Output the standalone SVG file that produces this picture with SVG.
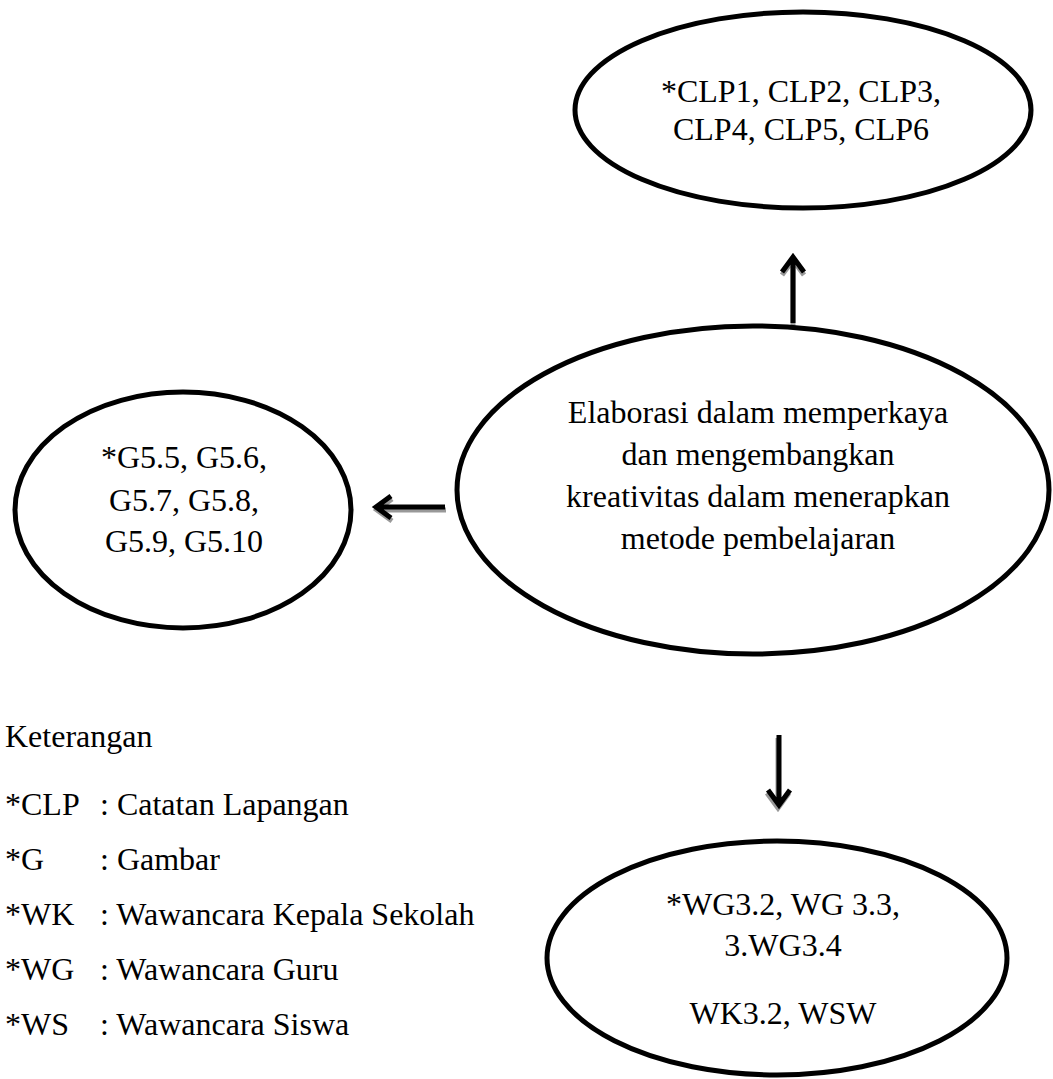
<svg xmlns="http://www.w3.org/2000/svg" width="1053" height="1079" viewBox="0 0 1053 1079">
  <defs>
    <style>
      .node { fill: #ffffff; stroke: #000000; stroke-width: 5; }
      .lbl { font-family: 'Liberation Serif', 'Times New Roman', Times, serif; font-size: 32px; fill: #000000; text-anchor: middle; }
      .leg { font-family: 'Liberation Serif', 'Times New Roman', Times, serif; font-size: 32px; fill: #000000; }
      .arw { fill: none; stroke: #000000; stroke-width: 5; stroke-linejoin: miter; stroke-linecap: butt; }
      .shd { fill: none; stroke: #999999; stroke-width: 5; stroke-linejoin: miter; stroke-linecap: butt; }
    </style>
    <path id="pUp" d="M793 323 V258 M782 272 L793 257 L804 272"/>
    <path id="pLeft" d="M445 507 H378 M391 496 L376 507 L391 518"/>
    <path id="pDown" d="M779 735 V804 M768 790 L779 805 L790 790"/>
  </defs>

  <rect width="1053" height="1079" fill="#ffffff"/>

  <!-- connectors: grey offset copy underneath gives the soft drop shadow -->
  <g id="connectors">
    <g id="arrow-up">
      <use href="#pUp" class="shd" transform="translate(0 3)"/>
      <use href="#pUp" class="arw"/>
    </g>
    <g id="arrow-left">
      <use href="#pLeft" class="shd" transform="translate(1 3)"/>
      <use href="#pLeft" class="arw"/>
    </g>
    <g id="arrow-down">
      <use href="#pDown" class="shd" transform="translate(-1 3)"/>
      <use href="#pDown" class="arw"/>
    </g>
  </g>

  <!-- nodes -->
  <g id="node-clp">
    <ellipse class="node" cx="803" cy="110" rx="228" ry="98"/>
    <text class="lbl" x="801" y="102">*CLP1, CLP2, CLP3,</text>
    <text class="lbl" x="801" y="140">CLP4, CLP5, CLP6</text>
  </g>

  <g id="node-center">
    <ellipse class="node" cx="753" cy="490" rx="296" ry="164"/>
    <text class="lbl" x="758" y="423">Elaborasi dalam memperkaya</text>
    <text class="lbl" x="758" y="465">dan mengembangkan</text>
    <text class="lbl" x="758" y="507">kreativitas dalam menerapkan</text>
    <text class="lbl" x="758" y="549">metode pembelajaran</text>
  </g>

  <g id="node-gambar">
    <ellipse class="node" cx="183" cy="510" rx="168" ry="118"/>
    <text class="lbl" x="184" y="468">*G5.5, G5.6,</text>
    <text class="lbl" x="184" y="511">G5.7, G5.8,</text>
    <text class="lbl" x="184" y="552">G5.9, G5.10</text>
  </g>

  <g id="node-wawancara">
    <ellipse class="node" cx="777" cy="958" rx="230" ry="117"/>
    <text class="lbl" x="783" y="915">*WG3.2, WG 3.3,</text>
    <text class="lbl" x="783" y="956">3.WG3.4</text>
    <text class="lbl" x="783" y="1024">WK3.2, WSW</text>
  </g>

  <!-- legend -->
  <g id="legend" class="leg">
    <text x="5" y="747">Keterangan</text>
    <text x="5" y="815">*CLP</text><text x="100" y="815">: Catatan Lapangan</text>
    <text x="5" y="870">*G</text><text x="100" y="870">: Gambar</text>
    <text x="5" y="925">*WK</text><text x="100" y="925">: Wawancara Kepala Sekolah</text>
    <text x="5" y="980">*WG</text><text x="100" y="980">: Wawancara Guru</text>
    <text x="5" y="1035">*WS</text><text x="100" y="1035">: Wawancara Siswa</text>
  </g>
</svg>
